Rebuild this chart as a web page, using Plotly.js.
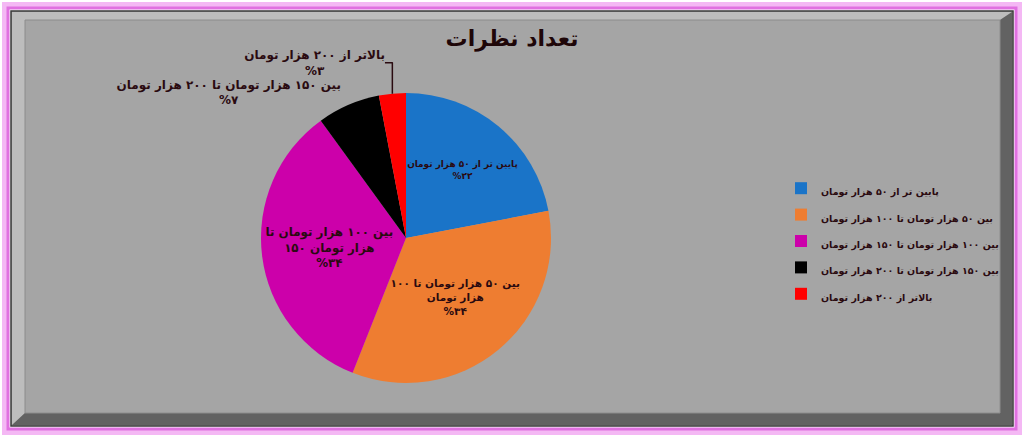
<!DOCTYPE html>
<html>
<head>
<meta charset="utf-8">
<script src="https://cdn.plot.ly/plotly-3.0.1.min.js"></script>
<style>
html,body{margin:0;padding:0;background:#fff;}
#chart{width:1024px;height:437px;}
</style>
</head>
<body>
<div id="chart"></div>
<script>
// ---- data ----
const categories = [
  "پایین تر از ۵۰ هزار تومان",
  "بین ۵۰ هزار تومان تا ۱۰۰ هزار تومان",
  "بین ۱۰۰ هزار تومان تا ۱۵۰ هزار تومان",
  "بین ۱۵۰ هزار تومان تا ۲۰۰ هزار تومان",
  "بالاتر از ۲۰۰ هزار تومان"
];
const values = [22, 34, 34, 7, 3];
const dataLabelLines = [
  "پایین تر از ۵۰ هزار تومان",
  "بین ۵۰ هزار تومان تا ۱۰۰<br>هزار تومان",
  "بین ۱۰۰ هزار تومان تا<br>\u200E۱۵۰ هزار تومان",
  "بین ۱۵۰ هزار تومان تا ۲۰۰ هزار تومان",
  "بالاتر از ۲۰۰ هزار تومان"
];
const colors = ["#1a74c8", "#ee7d31", "#cc00aa", "#000000", "#ff0000"];
const textPositions = ["inside", "inside", "inside", "outside", "outside"];
const chartTitle = "تعداد نظرات";

// ---- helpers ----
const FONT = "'DejaVu Sans', sans-serif";
function toPersianDigits(n){
  const d = "۰۱۲۳۴۵۶۷۸۹";
  return String(n).replace(/[0-9]/g, c => d[+c]);
}
const total = values.reduce((a,b)=>a+b,0);
const texts = values.map((v,i)=> dataLabelLines[i] + "<br>%" + toPersianDigits(Math.round(v/total*100)));
const legendLabels = categories.map(c => '<span style="font-size:9.5px">' + c + '</span>');

const W = 1024, H = 437;
const px = x => x / W;
const py = y => 1 - y / H;
function rect(x0,y0,x1,y1,style){
  return Object.assign({type:'rect', xref:'paper', yref:'paper', layer:'below',
    x0:px(x0), x1:px(x1), y0:py(y1), y1:py(y0)}, style);
}
function poly(pts, fill){
  const path = 'M' + pts.map(p => px(p[0]) + ',' + py(p[1])).join(' L') + ' Z';
  return {type:'path', xref:'paper', yref:'paper', layer:'below', path:path, fillcolor:fill, line:{width:0}};
}

const shapes = [
  rect(5,5,1019,432,{line:{color:'#f4b8f4', width:6}, fillcolor:'rgba(0,0,0,0)'}),
  rect(8,8,1016,429,{line:{color:'#e070e0', width:3}, fillcolor:'rgba(0,0,0,0)'}),
  rect(11,11,1013,426,{line:{color:'#3a3a3a', width:1.5}, fillcolor:'#a4a4a4'}),
  poly([[12,12],[1012,12],[1000,20],[25,20],[25,413],[12,425]], '#bdbdbd'),
  poly([[1012,12],[1012,425],[12,425],[25,413],[1000,413],[1000,20]], '#626262'),
  rect(25,20,1000,413,{line:{color:'#8c8c8c', width:1}, fillcolor:'#a5a5a5'})
];

const trace = {
  type:'pie',
  labels:legendLabels,
  values:values,
  text:texts,
  textinfo:'text',
  texttemplate:'%{text}',
  hoverinfo:'none',
  textposition:textPositions,
  insidetextorientation:'horizontal',
  sort:false,
  direction:'clockwise',
  rotation:0,
  marker:{colors:colors, line:{width:0}},
  textfont:{family:FONT, size:12, color:'#2a0a10', weight:'bold'},
  insidetextfont:{family:FONT, size:12, color:'#2a0a10', weight:'bold'},
  outsidetextfont:{family:FONT, size:12, color:'#2a0a10', weight:'bold'},
  domain:{x:[px(261), px(551)], y:[py(383), py(93)]},
  showlegend:true
};

const layout = {
  width:W, height:H,
  margin:{l:0,r:0,t:0,b:0, autoexpand:false},
  paper_bgcolor:'#ffffff',
  plot_bgcolor:'rgba(0,0,0,0)',
  title:{text:'<b>'+chartTitle+'</b>', x:0.500, y:py(38), xanchor:'center', yanchor:'middle',
    font:{family:FONT, size:22, color:'#1e0608'}},
  legend:{x:px(781), y:py(241), xanchor:'left', yanchor:'middle',
    font:{family:FONT, size:18, color:'#2a0a10', weight:'bold'},
    bgcolor:'rgba(0,0,0,0)', traceorder:'normal'},
  shapes:shapes
};

Plotly.newPlot('chart', [trace], layout, {displayModeBar:false, staticPlot:true});
</script>
</body>
</html>
